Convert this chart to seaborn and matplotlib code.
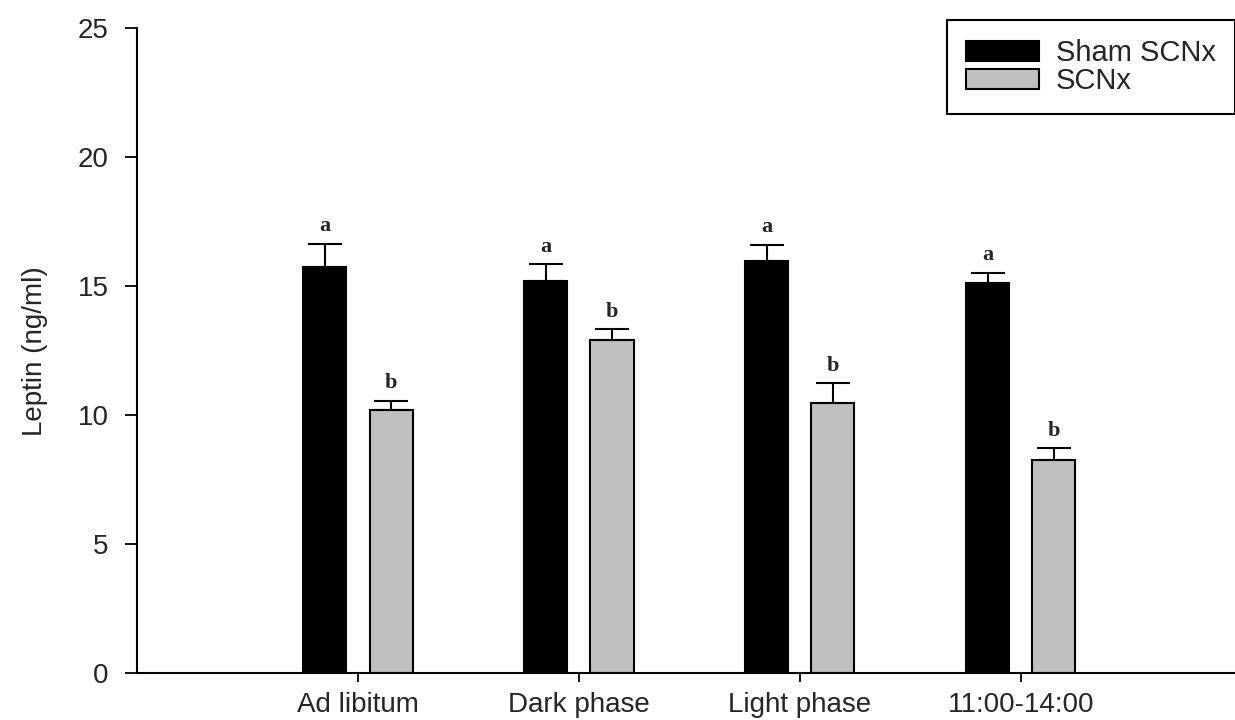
import pandas as pd
import matplotlib
matplotlib.use("Agg")
import matplotlib.pyplot as plt
import seaborn as sns

# values
conditions = ["Ad libitum", "Dark phase", "Light phase", "11:00-14:00"]
groups = ["Sham SCNx", "SCNx"]
sham_mean = [15.75, 15.18, 15.97, 15.13]
sham_sem = [0.90, 0.66, 0.62, 0.37]
scnx_mean = [10.19, 12.90, 10.49, 8.28]
scnx_sem = [0.35, 0.42, 0.74, 0.43]
sham_letters = ["a", "a", "a", "a"]
scnx_letters = ["b", "b", "b", "b"]
y_ticks = [0, 5, 10, 15, 20, 25]


def build_frame():
    rows = []
    for i, cond in enumerate(conditions):
        rows.append({"condition": cond, "group": groups[0], "leptin": sham_mean[i],
                     "sem": sham_sem[i], "letter": sham_letters[i]})
        rows.append({"condition": cond, "group": groups[1], "leptin": scnx_mean[i],
                     "sem": scnx_sem[i], "letter": scnx_letters[i]})
    return pd.DataFrame(rows)


def main():
    df = build_frame()

    sns.set_style("ticks")
    plt.rcParams["font.family"] = ["Liberation Sans", "DejaVu Sans"]

    fig = plt.figure(figsize=(12.35, 7.2), dpi=100)
    ax = fig.add_axes([0.111, 0.065, 0.889, 0.896])

    sns.barplot(data=df, x="condition", y="leptin", hue="group", order=conditions,
                hue_order=groups, palette=["black", "#c0c0c0"], edgecolor="black",
                linewidth=1.5, width=0.6, gap=0.35, errorbar=None, ax=ax)

    # upper-only error bars and significance letters on top of each bar
    for j, g in enumerate(groups):
        sub = df[df["group"] == g].set_index("condition").loc[conditions]
        bars = ax.containers[j]
        xs = [b.get_x() + b.get_width() / 2 for b in bars]
        ax.errorbar(xs, sub["leptin"], yerr=[[0] * len(xs), sub["sem"]], fmt="none",
                    ecolor="black", elinewidth=1.5, capsize=12, capthick=1.5)
        for x, m, s, lab in zip(xs, sub["leptin"], sub["sem"], sub["letter"]):
            ax.text(x, m + s + 0.3, lab, ha="center", va="bottom", fontsize=16,
                    fontweight="bold", family=["Liberation Serif", "DejaVu Serif"])

    ax.set_ylim(0, 25)
    ax.set_yticks(y_ticks)
    ax.set_xlim(-1.0, 3.97)
    ax.set_xlabel("")
    ax.set_ylabel("Leptin (ng/ml)", fontsize=20, labelpad=21)
    ax.tick_params(axis="both", labelsize=20, width=1.3, color="black")
    ax.tick_params(axis="y", length=8.6, pad=12)
    ax.tick_params(axis="x", length=6.5, pad=7)
    sns.despine(ax=ax)
    for sp in ["left", "bottom"]:
        ax.spines[sp].set_linewidth(1.5)
        ax.spines[sp].set_color("black")

    leg = ax.legend(loc="upper right", bbox_to_anchor=(1.0, 1.012), fontsize=21,
                    frameon=True, fancybox=False, edgecolor="black", framealpha=1,
                    handlelength=2.5, handleheight=0.65, labelspacing=0.0,
                    borderpad=0.65, handletextpad=0.6, borderaxespad=0)
    leg.get_frame().set_linewidth(1.5)

    fig.savefig("out.png", dpi=100)
    plt.close(fig)


if __name__ == "__main__":
    main()
